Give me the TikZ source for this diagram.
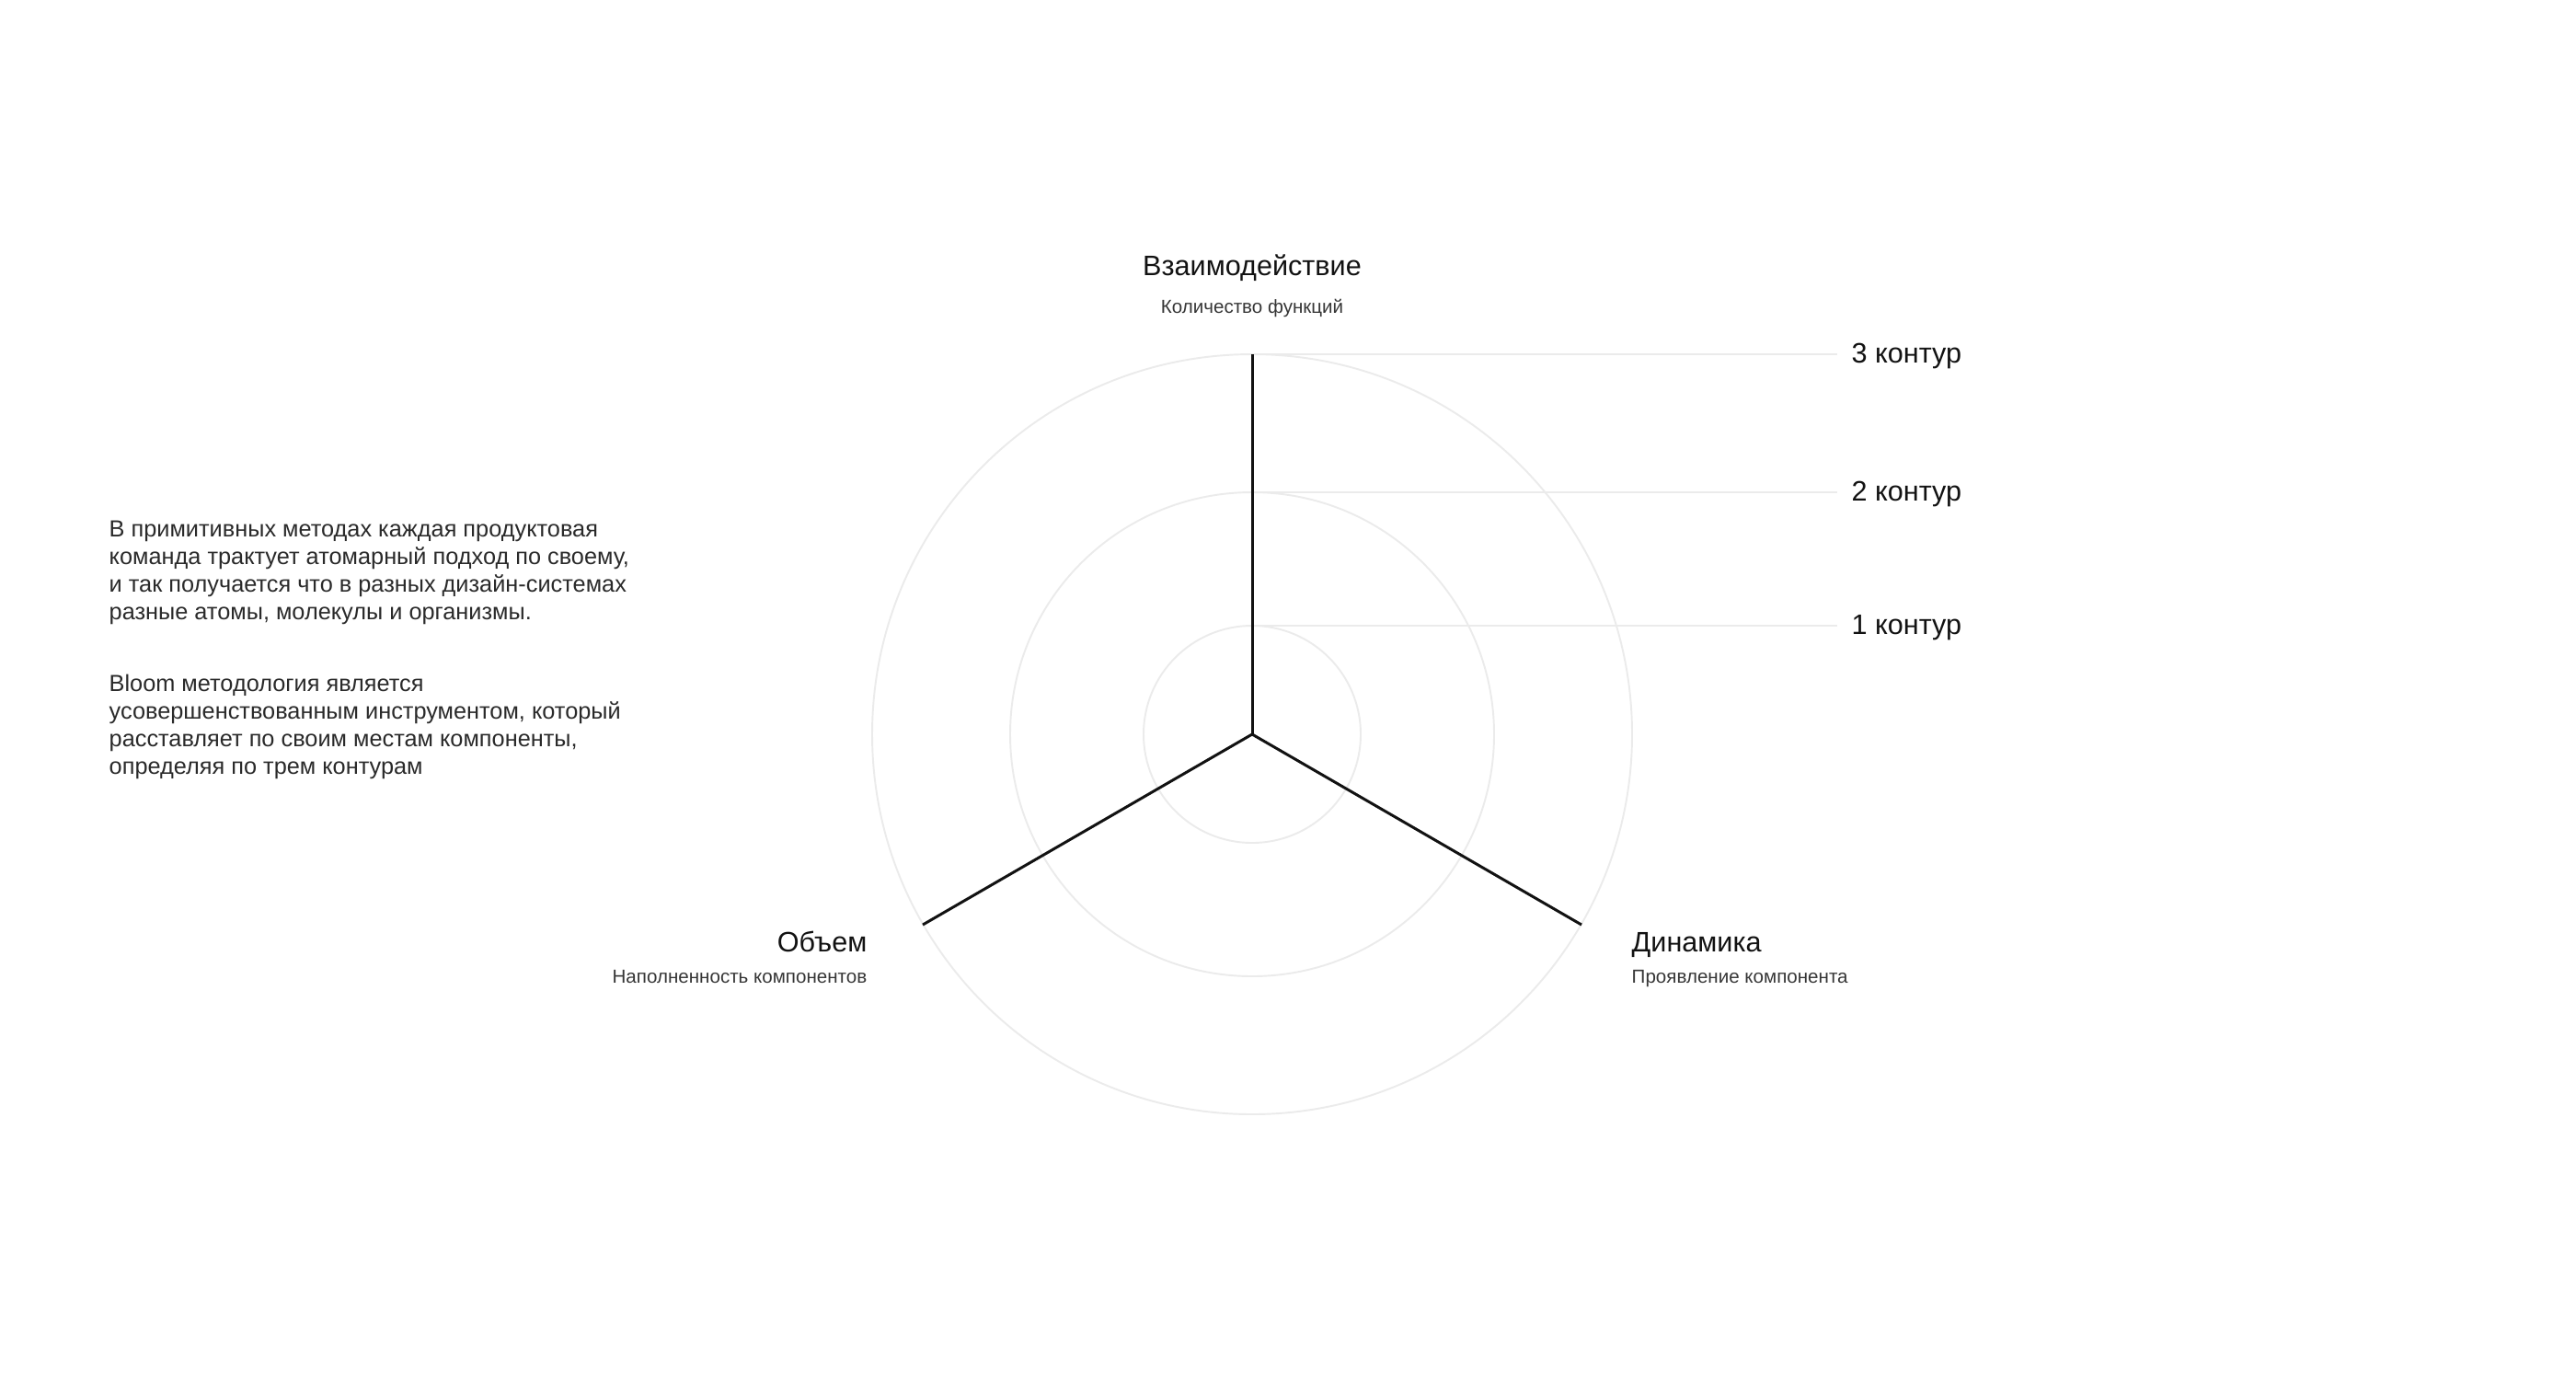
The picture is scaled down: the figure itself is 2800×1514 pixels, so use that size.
\documentclass[tikz,border=0pt]{standalone}
\usepackage{fontspec}
\setmainfont{Liberation Sans}
\definecolor{ringgray}{HTML}{EBEBEB}
\definecolor{ink}{HTML}{121212}
\tikzset{
  ring/.style={draw=ringgray, line width=0.55pt},
  spoke/.style={draw=ink, line width=0.85pt},
  title/.style={font=\fontsize{8.7}{10}\selectfont, text=ink},
  note/.style={font=\fontsize{5.85}{7}\selectfont, text=ink!85},
  para/.style={font=\fontsize{7.2}{8.54}\selectfont, align=left, text=ink!90, anchor=north west}
}
\begin{document}
\begin{tikzpicture}[x=0.01cm,y=-0.01cm]
\tikzstyle{every node}+=[inner sep=0pt]
\useasboundingbox (0,0) rectangle (2800,1514);
\coordinate (c) at (1361,798);
% three contours with their labels
\foreach \r/\n in {118/1,263/2,413/3}{
  \draw [ring] (c) circle (\r);
  \coordinate (t\n) at (1361,{798-\r});
  \node [title, anchor=base west] (k\n) at (2012,{807-\r}) {\n\ контур};
  \draw [ring, shorten >=0.15cm] (t\n) -- (t\n -| k\n.west);
}
\coordinate (sl) at (1003,1005);
\coordinate (sr) at (1719,1005);
\draw [spoke] (t3) -- (c);
\draw [spoke] (c) -- (sl);
\draw [spoke] (c) -- (sr);
% axis names
\node [title, anchor=base] (vz) at (1361,299) {Взаимодействие};
\node [note, anchor=base] (vzn) at (1361,340) {Количество функций};
\node [title, anchor=base east] (ob) at (943,1034) {Объем};
\node [note, anchor=base east] (obn) at (943,1068) {Наполненность компонентов};
\node [title, anchor=base west] (di) at (1773,1034) {Динамика};
\node [note, anchor=base west] (din) at (1773,1068) {Проявление компонента};
% text on the left
\node [para] (p1) at (118,565) {В примитивных методах каждая продуктовая\\
команда трактует атомарный подход по своему,\\
и так получается что в разных дизайн-системах\\
разные атомы, молекулы и организмы.};
\node [para] (p2) at (118,732) {Bloom методология является\\
усовершенствованным инструментом, который\\
расставляет по своим местам компоненты,\\
определяя по трем контурам};
\end{tikzpicture}
\end{document}
